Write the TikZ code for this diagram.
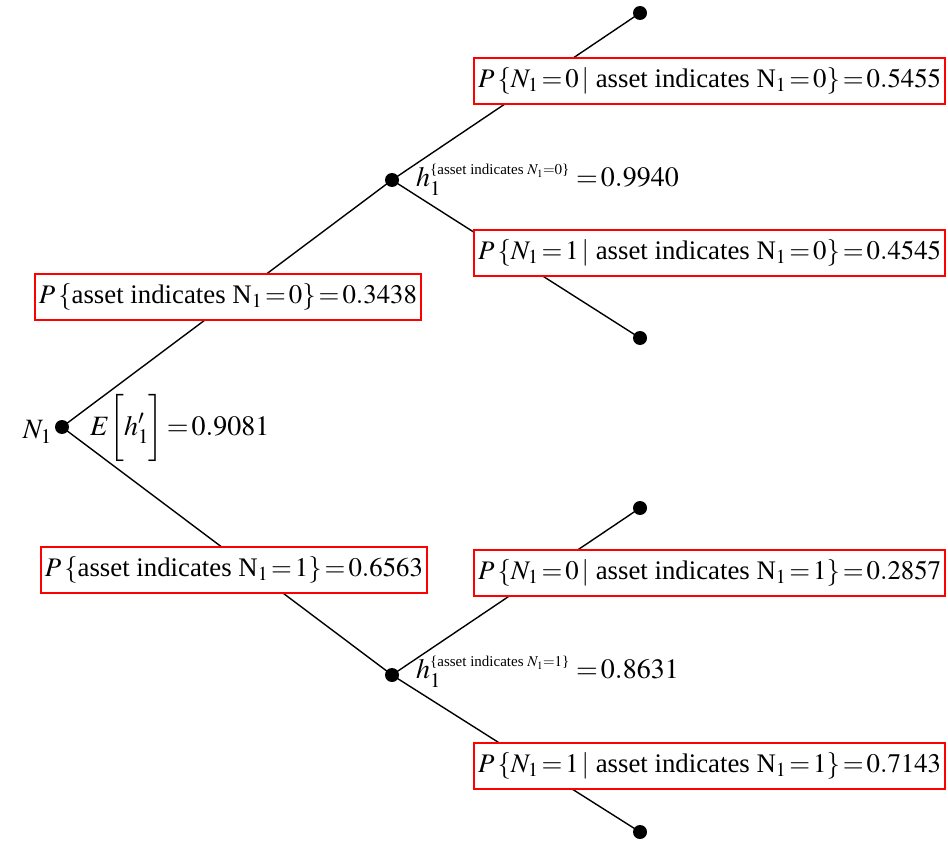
\documentclass[tikz,border=0pt]{standalone}
\usepackage{amsmath}
\usepackage{mathptmx}
\usepackage{fontspec}
\setmainfont{Liberation Serif}
% tight spacing around relations and binary operators
\newcommand{\tightmath}{\thickmuskip=2mu plus 1mu\relax\medmuskip=1.5mu\relax}
% superscript text of the node values
\newcommand{\suptext}[1]{\text{\fontsize{15}{16}\selectfont #1}}
\begin{document}
\begin{tikzpicture}[x=1pt,y=-1pt,
  dot/.style={circle,fill=black,inner sep=0pt,minimum size=14pt},
  probbox/.style={draw=red,line width=1.8pt,fill=white,inner xsep=4pt,inner ysep=9.5pt,
    font=\fontsize{26.8}{30}\selectfont,execute at begin node=\tightmath},
  lbl/.style={inner sep=0pt,font=\fontsize{28}{32}\selectfont,execute at begin node=\tightmath},
  edge/.style={line width=1.4pt}]
\useasboundingbox (0,0) rectangle (948,845);
% tree vertices
\node[dot] (root) at (62,427) {};
\node[dot] (up) at (392,180) {};
\node[dot] (dn) at (392,675) {};
\node[dot] (l1) at (640,13) {};
\node[dot] (l2) at (640,338) {};
\node[dot] (l3) at (640,508) {};
\node[dot] (l4) at (640,832) {};
% branches
\draw[edge] (root.center) -- (up.center);
\draw[edge] (root.center) -- (dn.center);
\draw[edge] (up.center) -- (l1.center);
\draw[edge] (up.center) -- (l2.center);
\draw[edge] (dn.center) -- (l3.center);
\draw[edge] (dn.center) -- (l4.center);
% branch probabilities
\node[probbox,anchor=west] (pa0) at (34,297) {$P\,\{\text{asset indicates N}_1=0\}=0.3438$};
\node[probbox,anchor=west] (pa1) at (40,570) {$P\,\{\text{asset indicates N}_1=1\}=0.6563$};
\node[probbox,anchor=east] (p00) at (946,81) {$P\,\{N_1=0\,|\text{ asset indicates N}_1=0\}=0.5455$};
\node[probbox,anchor=east] (p10) at (946,253) {$P\,\{N_1=1\,|\text{ asset indicates N}_1=0\}=0.4545$};
\node[probbox,anchor=east] (p01) at (946,573) {$P\,\{N_1=0\,|\text{ asset indicates N}_1=1\}=0.2857$};
\node[probbox,anchor=east] (p11) at (946,766) {$P\,\{N_1=1\,|\text{ asset indicates N}_1=1\}=0.7143$};
% node values
\node[lbl,anchor=east] (n1) at (52,432) {$N_1$};
\node[lbl,anchor=west] (eh) at (90,428) {$E\biggl[h_1'\biggr]=0.9081$};
\node[lbl,anchor=west] (h0) at (416,180) {$h_1^{\suptext{\{asset indicates $N_1{=}0$\}}}\;=0.9940$};
\node[lbl,anchor=west] (h1) at (416,672) {$h_1^{\suptext{\{asset indicates $N_1{=}1$\}}}\;=0.8631$};
\end{tikzpicture}
\end{document}
